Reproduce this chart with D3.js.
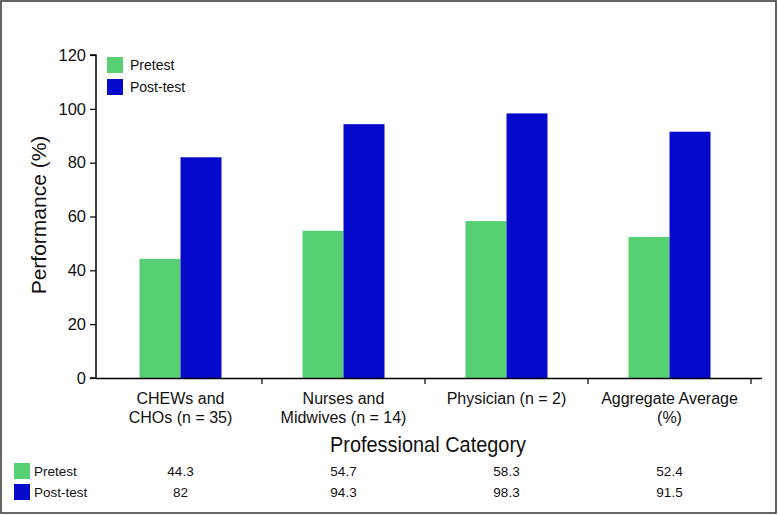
<!DOCTYPE html>
<html><head><meta charset="utf-8">
<script src="https://cdn.jsdelivr.net/npm/d3@7"></script>
<style>body{margin:0;background:#fff}svg{display:block}text{font-family:"Liberation Sans",Arial,sans-serif;fill:#111}</style>
</head><body><svg id="c" width="778" height="515"></svg>
<script>
const categories = [["CHEWs and","CHOs (n = 35)"],["Nurses and","Midwives (n = 14)"],["Physician (n = 2)"],["Aggregate Average","(%)"]];
const seriesNames = ["Pretest","Post-test"];
const pretest = [44.3, 54.7, 58.3, 52.4];
const posttest = [82, 94.3, 98.3, 91.5];
const tableText = [["44.3","54.7","58.3","52.4"],["82","94.3","98.3","91.5"]];
const yTicks = [0,20,40,60,80,100,120];
const colors = ["#56D073","#0509CC"];

const svg = d3.select("#c");
svg.append("rect").attr("x",1).attr("y",1).attr("width",775).attr("height",512).attr("fill","#fff").attr("stroke","#333").attr("stroke-width",1.5);

const y = d3.scaleLinear().domain([0,120]).range([378,55]);
const x = d3.scaleBand().domain(d3.range(categories.length)).range([99,751]).paddingInner(0).paddingOuter(0);
const xs = d3.scaleBand().domain([0,1]).range([0,x.bandwidth()]).paddingInner(0);
xs.paddingOuter((x.bandwidth()-82)/2/41);

const ax = svg.append("g").attr("transform","translate(96,0)")
  .call(d3.axisLeft(y).tickValues(yTicks).tickSize(6).tickPadding(4));
ax.select(".domain").attr("stroke","#000").attr("stroke-width",1.5).attr("d","M-6,55H0V378H-6");
ax.selectAll(".tick line").attr("stroke","#000").attr("stroke-width",1.2);
ax.selectAll(".tick text").style("font-size","16.5px").attr("fill","#111").attr("font-family","Liberation Sans, Arial, sans-serif");

const data = [pretest, posttest];
data.forEach((vals,si)=>{
  svg.append("g").selectAll("rect").data(vals).join("rect")
    .attr("x",(d,i)=>x(i)+xs(si)).attr("width",xs.bandwidth())
    .attr("y",d=>y(d)).attr("height",d=>y(0)-y(d)).attr("fill",colors[si]);
});

svg.append("line").attr("x1",96).attr("x2",762).attr("y1",378.5).attr("y2",378.5).attr("stroke","#000").attr("stroke-width",1.5);
const bounds = d3.range(categories.length+1).map(i=> i<categories.length ? x(i) : x(categories.length-1)+x.bandwidth());
bounds.slice(1).forEach(b=>{
  svg.append("line").attr("x1",b).attr("x2",b).attr("y1",378).attr("y2",384).attr("stroke","#000").attr("stroke-width",1.2);
});

categories.forEach((lines,i)=>{
  const t = svg.append("text").attr("x",x(i)+x.bandwidth()/2).attr("y",404).attr("text-anchor","middle").style("font-size","16px");
  lines.forEach((l,j)=>t.append("tspan").attr("x",x(i)+x.bandwidth()/2).attr("dy",j?19:0).text(l));
});

svg.append("text").attr("x",428).attr("y",452).attr("text-anchor","middle").style("font-size","22px").attr("textLength",196).attr("lengthAdjust","spacingAndGlyphs").text("Professional Category");
svg.append("text").attr("transform","translate(46,215) rotate(-90)").attr("text-anchor","middle").style("font-size","21px").text("Performance (%)");

seriesNames.forEach((n,i)=>{
  svg.append("rect").attr("x",107).attr("y",57+i*22).attr("width",16).attr("height",16).attr("fill",colors[i]);
  svg.append("text").attr("x",130).attr("y",70+i*22).style("font-size","14px").text(n);
});

seriesNames.forEach((n,i)=>{
  const yy = 463+i*21;
  svg.append("rect").attr("x",14).attr("y",yy).attr("width",16).attr("height",16).attr("fill",colors[i]);
  svg.append("text").attr("x",34).attr("y",yy+13).style("font-size","13.5px").text(n);
  tableText[i].forEach((v,k)=>{
    svg.append("text").attr("x",x(k)+x.bandwidth()/2).attr("y",yy+13).attr("text-anchor","middle").style("font-size","13.5px").text(v);
  });
});
</script></body></html>
